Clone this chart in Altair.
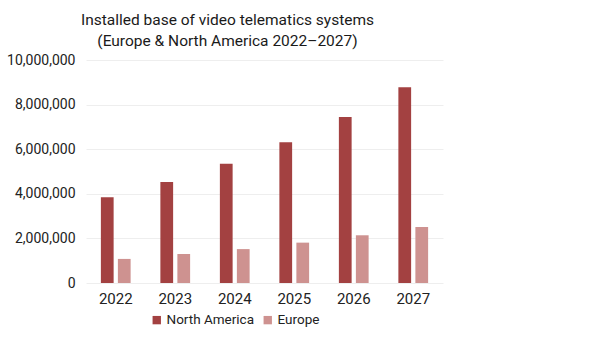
import altair as alt
import pandas as pd

years = ["2022", "2023", "2024", "2025", "2026", "2027"]
north_america = [3840000, 4530000, 5350000, 6310000, 7440000, 8780000]
europe = [1080000, 1300000, 1520000, 1810000, 2140000, 2510000]
series = ["North America", "Europe"]
colors = ["#A34141", "#CE9290"]

rows = []
for i, y in enumerate(years):
    rows.append({"year": y, "series": series[0], "value": north_america[i]})
    rows.append({"year": y, "series": series[1], "value": europe[i]})
df = pd.DataFrame(rows)

FONT = "Roboto"

chart = alt.Chart(df).mark_bar().encode(
    x=alt.X("year:N", sort=years, title=None,
            scale=alt.Scale(paddingInner=0.5, paddingOuter=0.25),
            axis=alt.Axis(labelAngle=0, labelFontSize=15, labelColor="#222",
                          labelFont=FONT, domain=False, ticks=False, labelPadding=8)),
    xOffset=alt.XOffset("series:N", sort=series, scale=alt.Scale(paddingInner=0.25)),
    y=alt.Y("value:Q", title=None,
            scale=alt.Scale(domain=[0, 10000000]),
            axis=alt.Axis(values=[0, 2000000, 4000000, 6000000, 8000000, 10000000],
                          format=",.0f", labelFontSize=14, labelColor="#222", labelFont=FONT,
                          domain=False, ticks=False, labelPadding=11,
                          gridColor="#EEEEEE", gridWidth=1)),
    color=alt.Color("series:N", sort=series,
                    scale=alt.Scale(domain=series, range=colors),
                    legend=alt.Legend(title=None, orient="none", direction="horizontal",
                                      legendX=64, legendY=253, symbolType="square",
                                      symbolSize=70, labelFontSize=13.5, labelFont=FONT,
                                      labelOffset=3, labelColor="#222", columnPadding=6,
                                      symbolStrokeWidth=0)),
).properties(
    width=357, height=223,
    title=alt.Title(["Installed base of video telematics systems",
                     "(Europe & North America 2022\u20132027)"],
                    fontSize=15.5, font=FONT, fontWeight="normal", color="#1a1a1a",
                    anchor="middle", dx=-37, lineHeight=21, offset=4),
    autosize=alt.AutoSizeParams(type="none"),
    padding={"left": 86, "top": 60, "right": 157, "bottom": 68},
).configure_view(stroke=None)

chart.save("out.html", embed_options={"renderer": "svg", "actions": False})
